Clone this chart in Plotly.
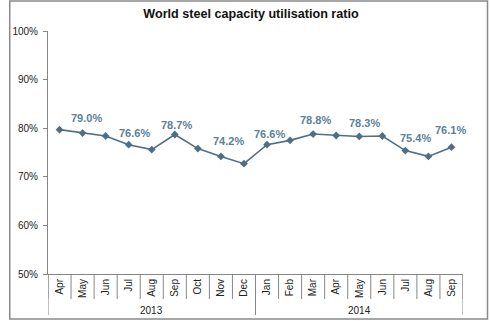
import plotly.graph_objects as go

# Monthly world steel capacity utilisation (%)
years = ["2013", "2014"]
months_2013 = ["Apr", "May", "Jun", "Jul", "Aug", "Sep", "Oct", "Nov", "Dec"]
months_2014 = ["Jan", "Feb", "Mar", "Apr", "May", "Jun", "Jul", "Aug", "Sep"]
util_2013 = [79.7, 79.0, 78.4, 76.6, 75.6, 78.7, 75.8, 74.2, 72.7]
util_2014 = [76.6, 77.5, 78.8, 78.5, 78.3, 78.4, 75.4, 74.2, 76.1]

# which points carry a value label, with their label offsets in px
labelled = {1: (4, 15), 3: (6, 12), 5: (2, 10), 7: (8, 15),
            9: (2, 11), 11: (2, 14), 13: (5, 13), 15: (10, 13), 17: (-1, 17)}

months = months_2013 + months_2014
values = util_2013 + util_2014
groups = [(years[0], len(months_2013)), (years[1], len(months_2014))]
n = len(months)
xs = list(range(n))

W, H = 490, 321
ML, MR, MT, MB = 40, 27, 31, 47
pw, ph = W - ML - MR, H - MT - MB

line_col = "#4d6f88"
label_col = "#5b7f9c"
axis_col = "#868686"
font = "Liberation Sans, Arial, sans-serif"

fig = go.Figure()
fig.add_trace(go.Scatter(
    x=xs, y=values, mode="lines+markers",
    line=dict(color=line_col, width=1.6),
    marker=dict(symbol="diamond", size=6, color=line_col),
    hoverinfo="skip", showlegend=False,
))

for i, (dx, dy) in labelled.items():
    fig.add_annotation(
        x=xs[i], y=values[i], xref="x", yref="y",
        text=f"{values[i]:.1f}%", showarrow=False,
        xshift=dx, yshift=dy,
        font=dict(family=font, size=11, color=label_col, weight="bold"),
    )

shapes = []
# category separators below the axis
for b in range(n + 1):
    shapes.append(dict(type="line", xref="x", yref="paper",
                       x0=b - 0.5, x1=b - 0.5, y0=0, y1=-25 / ph,
                       line=dict(color=axis_col, width=1)))
# year group separators and year labels
start = 0
bounds = [0]
for name, cnt in groups:
    fig.add_annotation(
        x=start + (cnt - 1) / 2, y=-36.5 / ph, xref="x", yref="paper",
        text=name, showarrow=False, yanchor="middle",
        font=dict(family=font, size=10, color="#222222"),
    )
    start += cnt
    bounds.append(start)
for b in bounds:
    shapes.append(dict(type="line", xref="x", yref="paper",
                       x0=b - 0.5, x1=b - 0.5, y0=0, y1=-41 / ph,
                       line=dict(color=axis_col, width=1)))

# outer chart border
shapes.append(dict(type="rect", xref="paper", yref="paper",
                   x0=(1 - ML) / pw, x1=(488 - ML) / pw,
                   y0=(H - MB - 319) / ph, y1=(H - MB - 1) / ph,
                   line=dict(color="#8a8a8a", width=1.5)))

fig.update_layout(
    width=W, height=H,
    margin=dict(l=ML, r=MR, t=MT, b=MB),
    paper_bgcolor="white", plot_bgcolor="white",
    title=dict(text="<b>World steel capacity utilisation ratio</b>",
               x=(251) / W, xanchor="center", y=1 - 14 / H, yanchor="middle",
               font=dict(family=font, size=12.6, color="#111111")),
    shapes=shapes,
    font=dict(family=font),
)
fig.update_xaxes(
    range=[-0.5, n - 0.5], tickmode="array", tickvals=xs, ticktext=months,
    tickangle=-90, showgrid=False, zeroline=False, showline=True,
    linecolor=axis_col, linewidth=1, ticks="",
    tickfont=dict(family=font, size=10, color="#222222"),
)
fig.update_yaxes(
    range=[50, 100], dtick=10, ticksuffix="%", showgrid=False,
    zeroline=False, showline=True, linecolor=axis_col, linewidth=1,
    ticks="outside", ticklen=4, tickcolor=axis_col, ticklabelstandoff=3,
    tickfont=dict(family=font, size=10, color="#222222"),
)

fig.write_html("out.html")
